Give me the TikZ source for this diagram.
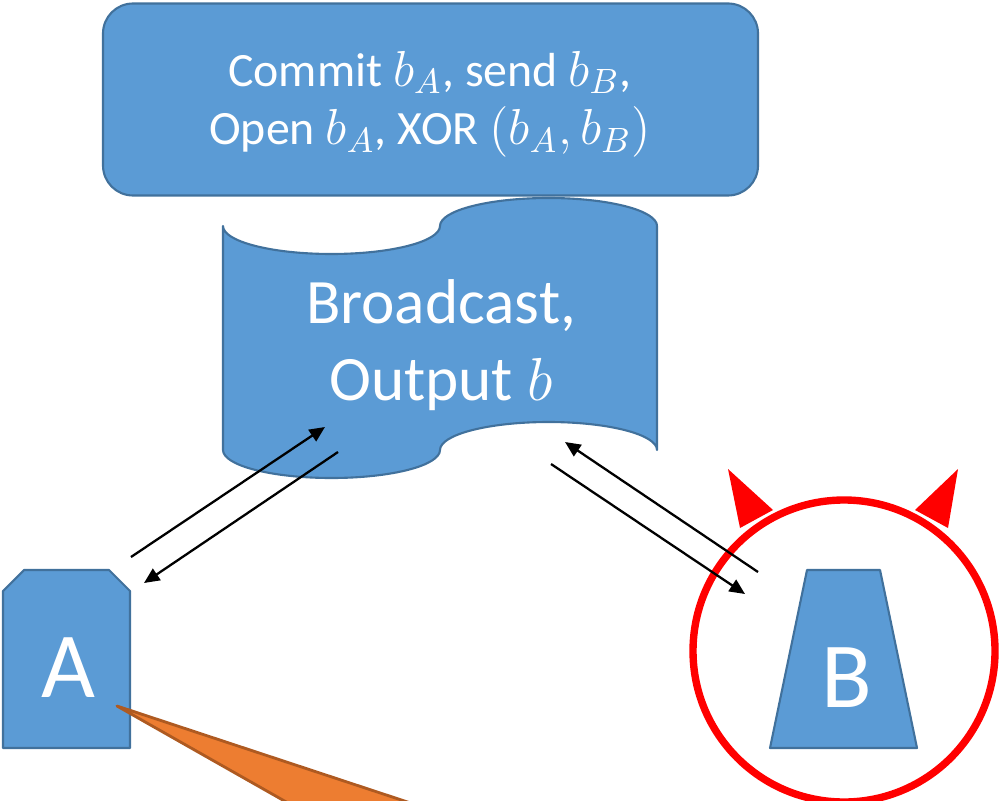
\documentclass[tikz,border=0pt]{standalone}
\usepackage{fontspec}
\setmainfont{Carlito}
\usetikzlibrary{arrows.meta}
\definecolor{boxblue}{HTML}{5B9BD5}
\definecolor{boxedge}{HTML}{41719C}
\definecolor{calloutfill}{HTML}{ED7D31}
\definecolor{calloutedge}{HTML}{AE5A21}
\definecolor{devilred}{HTML}{FF0000}
\tikzset{
  blueshape/.style={fill=boxblue, draw=boxedge, line width=0.6pt, line join=round},
  whitetext/.style={text=white, align=center, inner sep=0pt},
  bigletter/.style={text=white, inner sep=0pt, font=\fontsize{26.5}{30}\selectfont},
  msg/.style={line width=0.65pt, -{Triangle[length=4.4pt, width=3.9pt]}},
  horn/.style={fill=devilred, draw=none},
}
\begin{document}
\begin{tikzpicture}
\useasboundingbox (0,0) rectangle (10,-8);

% protocol steps
\node[blueshape, rounded corners=0.3cm, minimum width=6.55cm, minimum height=1.92cm]
  (steps) at (4.305,-0.995) {};
\node[whitetext, font=\fontsize{13.6}{16.6}\selectfont] (stepstext) at (4.30,-1.04)
  {Commit $b_A$, send $b_B$,\\ Open $b_A$, XOR $(b_A, b_B)$};

% broadcast channel (punched tape)
\path[blueshape] (2.23,-2.26)
  arc[start angle=180, end angle=360, x radius=1.085, y radius=0.28]
  arc[start angle=180, end angle=0, x radius=1.085, y radius=0.28]
  -- (6.57,-4.50)
  arc[start angle=0, end angle=180, x radius=1.085, y radius=0.28]
  arc[start angle=0, end angle=-180, x radius=1.085, y radius=0.28]
  -- cycle;
\node[whitetext, font=\fontsize{18}{22}\selectfont] (channel) at (4.41,-3.45)
  {Broadcast,\\ Output $b$};

% party A
\path[blueshape] (0.03,-5.91) -- (0.24,-5.70) -- (1.09,-5.70) -- (1.30,-5.91)
  -- (1.30,-7.48) -- (0.03,-7.48) -- cycle;
\node[bigletter, anchor=base] (A) at (0.68,-6.97) {A};

% party B (malicious)
\path[blueshape] (8.07,-5.70) -- (8.80,-5.70) -- (9.17,-7.48) -- (7.70,-7.48) -- cycle;
\node[bigletter, anchor=base] (B) at (8.47,-7.07) {B};
\coordinate (ringc) at (8.44,-6.51);
\draw[devilred, line width=2.1pt] (ringc) circle[radius=1.51];
\fill[horn] (7.28,-4.69) -- (7.40,-5.28) -- (7.73,-5.10) -- cycle;
\fill[horn] (9.58,-4.69) -- (9.48,-5.28) -- (9.15,-5.10) -- cycle;

% callout tail from A
\begin{scope}
  \clip (0,0) rectangle (10,-8);
  \coordinate (tip) at (1.17,-7.06);
  \path[fill=calloutfill, draw=calloutedge, line width=0.8pt, line join=round]
    (tip) -- (3.18,-8.20) -- (4.62,-8.20) -- cycle;
\end{scope}

% messages between the parties and the channel
\coordinate (a1) at (1.31,-5.57);
\coordinate (c1) at (3.25,-4.27);
\coordinate (c2) at (3.38,-4.52);
\coordinate (a2) at (1.44,-5.83);
\coordinate (b1) at (7.58,-5.72);
\coordinate (c3) at (5.65,-4.42);
\coordinate (c4) at (5.51,-4.64);
\coordinate (b2) at (7.45,-5.94);
\draw[msg] (a1) -- (c1);
\draw[msg] (c2) -- (a2);
\draw[msg] (b1) -- (c3);
\draw[msg] (c4) -- (b2);
\end{tikzpicture}
\end{document}
